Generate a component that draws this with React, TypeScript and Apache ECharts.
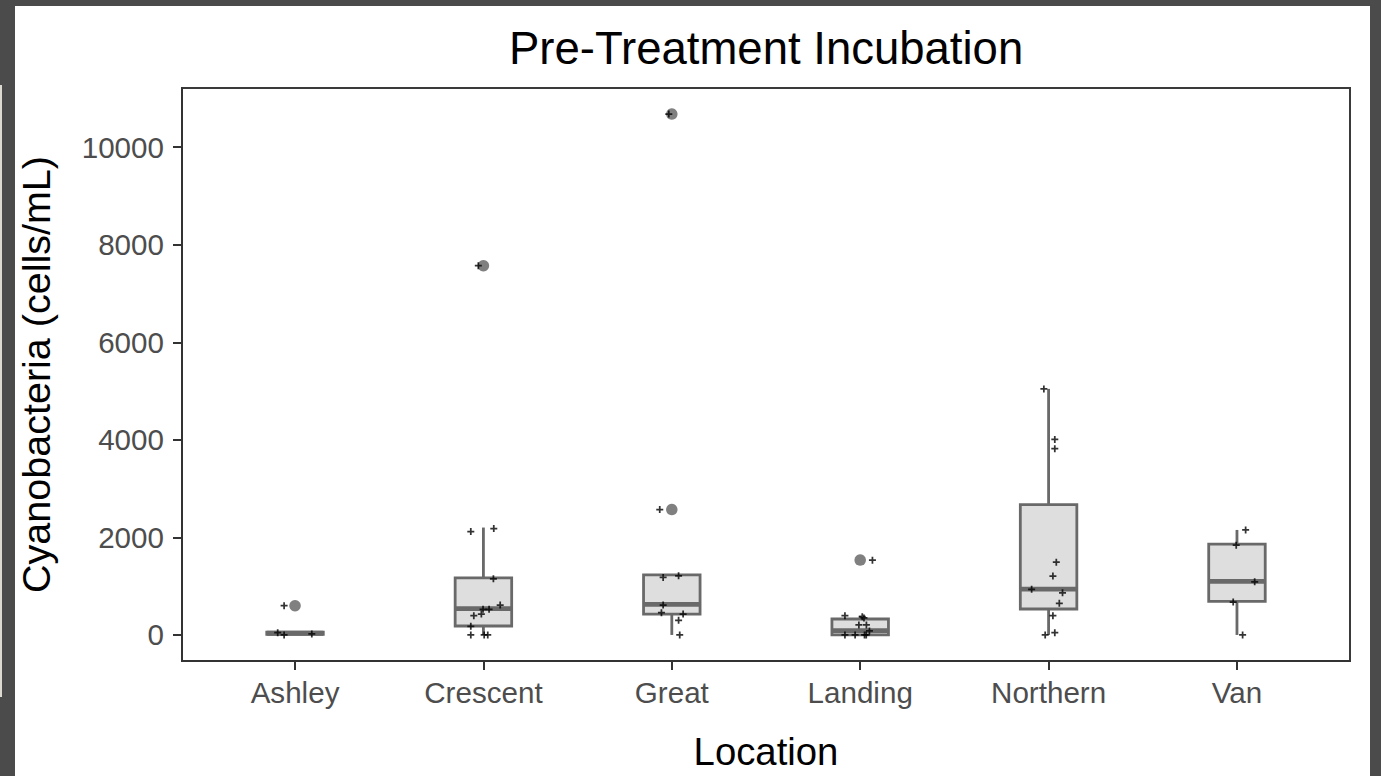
import React, { useEffect, useRef } from "react";
import * as echarts from "echarts";

const categories = ["Ashley", "Crescent", "Great", "Landing", "Northern", "Van"];
const categoryPos = [1, 2, 3, 4, 5, 6];

const boxMin = [0, 0, 0, 0, 0, 0];
const boxQ1 = [10, 184, 429, 0, 532, 689];
const boxMedian = [35, 538, 628, 90, 941, 1098];
const boxQ3 = [60, 1172, 1233, 327, 2672, 1861];
const boxMax = [60, 2202, 1233, 395, 5045, 2153];

const outlierX = [1, 2, 3, 3, 4];
const outlierY = [600, 7570, 2570, 10680, 1535];

const jitterX = [
  0.942, 0.908, 0.942, 1.089,
  1.973, 1.933, 2.055, 2.053, 2.089, 1.998, 2.03, 1.949, 1.989, 1.933, 1.933, 2.004, 2.023,
  2.984, 2.936, 2.954, 3.036, 2.954, 2.945, 3.06, 3.036, 3.042,
  4.065, 3.919, 4.011, 4.02, 3.993, 4.033, 4.049, 3.919, 3.973, 4.023, 4.032,
  4.975, 5.033, 5.033, 5.041, 5.023, 4.91, 5.074, 5.057, 5.023, 5.033, 4.982,
  6.046, 5.996, 6.094, 5.98, 6.03,
];
const jitterY = [
  600, 47, 0, 20,
  7570, 2120, 2182, 1151, 613, 525, 525, 395, 429, 178, 0, 0, 0,
  10680, 2570, 1180, 1213, 613, 456, 429, 300, 0,
  1533, 395, 375, 348, 205, 205, 82, 0, 0, 0, 0,
  5045, 4008, 3818, 1493, 1207, 935, 865, 648, 395, 47, 0,
  2153, 1840, 1090, 675, 0,
];

const yTicks = [0, 2000, 4000, 6000, 8000, 10000];

const FONT = "'Liberation Sans', Arial, sans-serif";
const BOX_STROKE = "#696969";
const BOX_FILL = "#dedede";
const BOX_W = 0.3;

export default function App() {
  const ref = useRef<HTMLDivElement>(null);

  useEffect(() => {
    if (!ref.current) return;
    const chart = echarts.init(ref.current, undefined, { renderer: "svg" });

    const boxData = categoryPos.map((x, i) => [x, boxMin[i], boxQ1[i], boxMedian[i], boxQ3[i], boxMax[i]]);
    const outlierData = outlierX.map((x, i) => [x, outlierY[i]]);
    const jitterData = jitterX.map((x, i) => [x, jitterY[i]]);

    chart.setOption({
      animation: false,
      backgroundColor: "#ffffff",
      title: {
        text: "Pre-Treatment Incubation",
        left: 489,
        top: 14,
        textStyle: { fontFamily: FONT, fontSize: 45.5, fontWeight: "normal", color: "#000" },
      },
      grid: {
        left: 167,
        top: 82,
        width: 1168,
        height: 573,
        show: true,
        containLabel: false,
        outerBoundsMode: "none",
        borderColor: "#3a3a3a",
        borderWidth: 2,
        backgroundColor: "transparent",
      },
      xAxis: {
        type: "value",
        min: 0.4,
        max: 6.6,
        name: "Location",
        nameLocation: "middle",
        nameGap: 71,
        nameTextStyle: { fontFamily: FONT, fontSize: 38.3, color: "#000" },
        axisLine: { show: true, onZero: false, lineStyle: { color: "#333", width: 2 } },
        axisTick: { show: true, length: 9, lineStyle: { color: "#333", width: 2 }, customValues: categoryPos },
        axisLabel: {
          customValues: categoryPos,
          margin: 16,
          fontFamily: FONT,
          fontSize: 29.6,
          color: "#4d4d4d",
          formatter: (v: number) => categories[Math.round(v) - 1] ?? "",
        },
        splitLine: { show: false },
      },
      yAxis: {
        type: "value",
        min: -534,
        max: 11214,
        name: "Cyanobacteria (cells/mL)",
        nameLocation: "middle",
        nameRotate: 90,
        nameGap: 126,
        nameTextStyle: { fontFamily: FONT, fontSize: 39.5, color: "#000" },
        axisLine: { show: true, onZero: false, lineStyle: { color: "#333", width: 2 } },
        axisTick: { show: true, length: 9, lineStyle: { color: "#333", width: 2 }, customValues: yTicks },
        axisLabel: {
          customValues: yTicks,
          margin: 18,
          fontFamily: FONT,
          fontSize: 29.6,
          color: "#4d4d4d",
          formatter: (v: number) => String(Math.round(v)),
        },
        splitLine: { show: false },
      },
      series: [
        {
          type: "custom",
          data: boxData,
          encode: { x: 0, y: [1, 2, 3, 4, 5] },
          z: 2,
          renderItem: (_params: any, api: any) => {
            const x = api.value(0);
            const half = api.size([BOX_W, 0])[0] / 2;
            const [cx, yMin] = api.coord([x, api.value(1)]);
            const yQ1 = api.coord([x, api.value(2)])[1];
            const yMed = api.coord([x, api.value(3)])[1];
            const yQ3 = api.coord([x, api.value(4)])[1];
            const yMax = api.coord([x, api.value(5)])[1];
            const lineStyle = { stroke: BOX_STROKE, lineWidth: 2.8 };
            return {
              type: "group",
              children: [
                { type: "line", shape: { x1: cx, y1: yQ3, x2: cx, y2: yMax }, style: lineStyle },
                { type: "line", shape: { x1: cx, y1: yQ1, x2: cx, y2: yMin }, style: lineStyle },
                {
                  type: "rect",
                  shape: { x: cx - half, y: yQ3, width: 2 * half, height: yQ1 - yQ3 },
                  style: { fill: BOX_FILL, stroke: BOX_STROKE, lineWidth: 2.8 },
                },
                {
                  type: "line",
                  shape: { x1: cx - half, y1: yMed, x2: cx + half, y2: yMed },
                  style: { stroke: BOX_STROKE, lineWidth: 4.8 },
                },
              ],
            };
          },
        },
        {
          type: "scatter",
          data: outlierData,
          symbol: "circle",
          symbolSize: 11.5,
          itemStyle: { color: "#606060" },
          z: 3,
        },
        {
          type: "scatter",
          data: jitterData,
          symbol: "path://M3,0h2v3h3v2h-3v3h-2v-3h-3v-2h3z",
          symbolSize: 7,
          itemStyle: { color: "#000" },
          z: 4,
        },
      ],
    });

    return () => chart.dispose();
  }, []);

  return (
    <div
      style={{
        position: "fixed",
        left: 0,
        top: 0,
        width: 1381,
        height: 776,
        background: "#4b4b4b",
        overflow: "hidden",
      }}
    >
      <div style={{ position: "absolute", left: 0, top: 85, width: 2, height: 612, background: "#dcd9d0" }} />
      <div
        ref={ref}
        style={{ position: "absolute", left: 15, top: 6, width: 1355, height: 770, background: "#ffffff" }}
      />
    </div>
  );
}
